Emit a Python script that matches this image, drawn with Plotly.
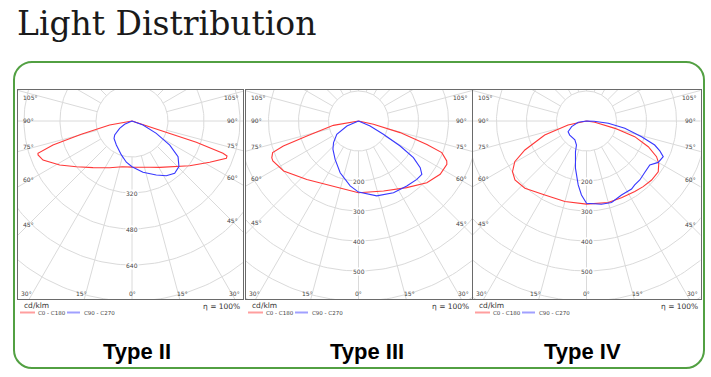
import numpy as np
import plotly.graph_objects as go

W, H = 711, 377

# ---------------- data (gamma angle in degrees, negative = C180/C270 side; intensity cd/klm)
TITLE = "Light Distribution"
PANEL_NAMES = ["Type II", "Type III", "Type IV"]
SERIES_NAMES = ["C0 - C180", "C90 - C270"]
UNIT = "cd/klm"
EFFICIENCY = "η = 100%"

P1_RED_ANG = [-90, -79.8, -75.3, -73.1, -71.0, -70.1, -66.3, -58.7, -50.6, -39.9, -25.5, -12, 0,
              10, 20.9, 30.9, 44.1, 52.2, 62.0, 68.4, 69.8, 70.5, 71.7, 72.2, 90]
P1_RED_VAL = [0, 101, 233, 367, 442, 444, 432, 376, 320, 270, 230, 208, 205,
              207, 220, 240, 283, 324, 391, 451, 450, 429, 301, 129, 0]
P1_BLUE_ANG = [-90, -65.7, -59.3, -51, -46, -33.2, -17.4, -7.8, 0, 12.1, 24.2, 32.1, 39.2,
               45.8, 52.2, 57.5, 63.1, 70, 90]
P1_BLUE_VAL = [0, 36, 64, 99, 111, 127, 158, 185, 203, 233, 263, 287, 300,
               291, 259, 199, 121, 52, 0]

P2_RED_ANG = [-90, -80.2, -73.8, -71.6, -69.8, -67, -65, -56.3, -41.5, -21, 0, 19.7, 35.9,
              47.9, 56.9, 63.9, 65.6, 69.2, 71.1, 74.4, 77.5, 90]
P2_RED_VAL = [0, 85, 179, 264, 305, 314, 315, 300, 260, 232, 239, 248, 274,
              307, 325, 328, 323, 297, 241, 144, 51, 0]
P2_BLUE_ANG = [-90, -66.8, -58.4, -49.1, -42.2, -31.3, -19.5, -7.3, 0, 13.7, 26, 36.6, 45,
               49.9, 52.9, 56.3, 59, 61.9, 66.8, 90]
P2_BLUE_VAL = [0, 42, 85, 110, 127, 150, 183, 218, 237, 257, 266, 270, 275,
               276, 258, 220, 162, 94, 42, 0]

P3_RED_ANG = [-90, -77.7, -71.4, -64.8, -60.4, -55.6, -50.5, -42.5, -29.4, -15, 0, 14.9, 24.5,
              34.4, 40.8, 47.8, 54.7, 59.7, 63, 67.4, 72, 75.5, 81, 90]
P3_RED_VAL = [0, 63, 147, 227, 275, 299, 309, 304, 283, 278, 277, 281, 281,
              285, 289, 293, 293, 279, 262, 223, 169, 98, 28, 0]
P3_BLUE_ANG = [-90, -80.9, -69.3, -59.8, -50, -31.6, -22.6, -19.7, -13.1, -7.4, -3.9, 0, 10.2,
               17.1, 25.3, 33.5, 37, 42.1, 48.7, 55.2, 60, 65.1, 67.8, 70.6, 74.1, 79.2, 83.9, 88, 90]
P3_BLUE_VAL = [0, 28, 53, 71, 73, 74, 87, 109, 162, 215, 247, 274, 282,
               284, 273, 272, 267, 265, 259, 257, 276, 282, 264, 241, 191, 130, 73, 25, 0]

RING_STEPS = [160, 100, 100]
RING_LABELS = [[320, 480, 640], [200, 300, 400, 500], [200, 300, 400, 500]]
SIDE_ANGLES = [105, 90, 75, 60, 45]
BOTTOM_ANGLES = [30, 15, 0, 15, 30]

# ---------------- layout constants (pixels)
PANEL_X = [(18, 243), (246, 472), (473, 700.5)]
PANEL_Y = (90, 299)
CENTER_X = [132, 358.5, 586.5]
CENTER_Y = 121
PX_PER_STEP = [36, 30, 30]
RED, BLUE = "#ff3838", "#3838ff"
GRID = "#dadada"
LABEL_FONT = "DejaVu Sans"


def pxx(x):
    return x / W


def pxy(y):
    return 1 - y / H


fig = go.Figure()
annotations = []
shapes = []

curves = [
    ((P1_RED_ANG, P1_RED_VAL), (P1_BLUE_ANG, P1_BLUE_VAL)),
    ((P2_RED_ANG, P2_RED_VAL), (P2_BLUE_ANG, P2_BLUE_VAL)),
    ((P3_RED_ANG, P3_RED_VAL), (P3_BLUE_ANG, P3_BLUE_VAL)),
]

for i in range(3):
    n = i + 1
    xa, ya = ("x", "y") if n == 1 else (f"x{n}", f"y{n}")
    x0, x1 = PANEL_X[i]
    y0, y1 = PANEL_Y
    cx, cy = CENTER_X[i], CENTER_Y
    step = RING_STEPS[i]
    s = PX_PER_STEP[i] / step  # px per cd

    # grid rings
    nrings = 8
    t = np.linspace(0, 2 * np.pi, 241)
    gx, gy = [], []
    for k in range(1, nrings + 1):
        r = k * step
        gx += list(r * np.sin(t)) + [None]
        gy += list(r * np.cos(t)) + [None]
    # rays every 15 degrees starting at first ring
    for a in range(0, 360, 15):
        ar = np.radians(a)
        gx += [step * np.sin(ar), nrings * step * np.sin(ar), None]
        gy += [-step * np.cos(ar), -nrings * step * np.cos(ar), None]
    fig.add_trace(go.Scatter(x=gx, y=gy, mode="lines", line=dict(color=GRID, width=1),
                             hoverinfo="skip", showlegend=False, xaxis=xa, yaxis=ya))

    for (ang, val), col in zip(curves[i], (RED, BLUE)):
        g = np.radians(np.array(ang, dtype=float))
        v = np.array(val, dtype=float)
        fig.add_trace(go.Scatter(x=v * np.sin(g), y=-v * np.cos(g), mode="lines",
                                 line=dict(color=col, width=1.1), showlegend=False,
                                 xaxis=xa, yaxis=ya))

    axcommon = dict(showgrid=False, zeroline=False, showticklabels=False, ticks="",
                    showline=True, mirror=True, linecolor="#6a6a6a", linewidth=1.3,
                    fixedrange=True)
    fig.update_layout(**{
        ("xaxis" if n == 1 else f"xaxis{n}"): dict(domain=[pxx(x0), pxx(x1)],
                                                  range=[(x0 - cx) / s, (x1 - cx) / s],
                                                  anchor=ya, **axcommon),
        ("yaxis" if n == 1 else f"yaxis{n}"): dict(domain=[pxy(y1), pxy(y0)],
                                                  range=[-(y1 - cy) / s, (cy - y0) / s],
                                                  anchor=xa, **axcommon),
    })

    lf = dict(family=LABEL_FONT, size=6, color="#444")
    # side angle labels
    for a in SIDE_ANGLES:
        d = cx - x0 - 8
        yy = cy + d / np.tan(np.radians(a)) - (0 if a == 90 else 3)
        yy = max(yy, y0 + 7)
        annotations.append(dict(x=pxx(x0 + 3), y=pxy(yy), xref="paper", yref="paper",
                                text=f"{a}°", showarrow=False, xanchor="left",
                                yanchor="middle", font=lf))
        d = x1 - cx - 8
        yy = cy + d / np.tan(np.radians(a)) - (0 if a == 90 else 3)
        yy = max(yy, y0 + 7)
        annotations.append(dict(x=pxx(x1 - 3), y=pxy(yy), xref="paper", yref="paper",
                                text=f"{a}°", showarrow=False, xanchor="right",
                                yanchor="middle", font=lf))
    # bottom labels
    for j, a in enumerate(BOTTOM_ANGLES):
        sign = -1 if j < 2 else 1
        if a == 30:
            xx = x0 + 8 if sign < 0 else x1 - 8
        else:
            xx = cx + sign * ((y1 - cy) * np.tan(np.radians(a)) + (3 if a else 0))
        annotations.append(dict(x=pxx(xx), y=pxy(y1 - 5.5), xref="paper", yref="paper",
                                text=f"{a}°", showarrow=False, xanchor="center",
                                yanchor="middle", font=lf))
    # ring labels
    for rv in RING_LABELS[i]:
        annotations.append(dict(x=rv * 0, y=-rv, xref=xa, yref=ya, text=str(rv),
                                showarrow=False, bgcolor="white", borderpad=0,
                                font=dict(family=LABEL_FONT, size=6, color="#444")))

    # footer text
    annotations.append(dict(x=pxx(x0 + 4), y=pxy(305.5), xref="paper", yref="paper",
                            text=UNIT, showarrow=False, xanchor="left", yanchor="middle",
                            font=dict(family=LABEL_FONT, size=7.5, color="#333")))
    annotations.append(dict(x=pxx(x1 - 1), y=pxy(306), xref="paper", yref="paper",
                            text=EFFICIENCY, showarrow=False, xanchor="right", yanchor="middle",
                            font=dict(family=LABEL_FONT, size=7.5, color="#333")))
    # legend
    for (lx0, lx1, tx), col, name in zip([(2, 17, 18), (49, 62, 64)],
                                         ("#ff9e9e", "#a0a0ff"), SERIES_NAMES):
        shapes.append(dict(type="line", xref="paper", yref="paper",
                           x0=pxx(x0 + lx0), x1=pxx(x0 + lx1), y0=pxy(312.5), y1=pxy(312.5),
                           line=dict(color=col, width=2)))
        annotations.append(dict(x=pxx(x0 + tx), y=pxy(312.5), xref="paper", yref="paper",
                                text=name, showarrow=False, xanchor="left", yanchor="middle",
                                font=dict(family=LABEL_FONT, size=5.5, color="#444")))

# Type labels
for name, xc in zip(PANEL_NAMES, [136.5, 367, 582]):
    annotations.append(dict(x=pxx(xc), y=pxy(351), xref="paper", yref="paper", text=name,
                            showarrow=False, xanchor="center", yanchor="middle",
                            font=dict(family="Liberation Sans", size=22, color="#000",
                                      weight="bold")))

# Title
annotations.append(dict(x=pxx(15), y=pxy(23.5), xref="paper", yref="paper", text=TITLE,
                        showarrow=False, xanchor="left", yanchor="middle",
                        font=dict(family="DejaVu Serif", size=33, color="#1a1a1a")))


# green rounded frame
def rrect(x0, y0, x1, y1, r):
    k = 0.5523 * r
    P = lambda x, y: f"{pxx(x):.5f},{pxy(y):.5f}"
    return (f"M {P(x0 + r, y0)} L {P(x1 - r, y0)} "
            f"C {P(x1 - r + k, y0)} {P(x1, y0 + r - k)} {P(x1, y0 + r)} "
            f"L {P(x1, y1 - r)} C {P(x1, y1 - r + k)} {P(x1 - r + k, y1)} {P(x1 - r, y1)} "
            f"L {P(x0 + r, y1)} C {P(x0 + r - k, y1)} {P(x0, y1 - r + k)} {P(x0, y1 - r)} "
            f"L {P(x0, y0 + r)} C {P(x0, y0 + r - k)} {P(x0 + r - k, y0)} {P(x0 + r, y0)} Z")


shapes.append(dict(type="path", xref="paper", yref="paper", path=rrect(14, 62, 704, 368, 18),
                   line=dict(color="#52a042", width=2)))

fig.update_layout(width=W, height=H, margin=dict(l=0, r=0, t=0, b=0),
                  paper_bgcolor="white", plot_bgcolor="white", showlegend=False,
                  annotations=annotations, shapes=shapes)

fig.write_html("out.html", config={"displayModeBar": False},
               post_script="document.body.style.margin='0';")
